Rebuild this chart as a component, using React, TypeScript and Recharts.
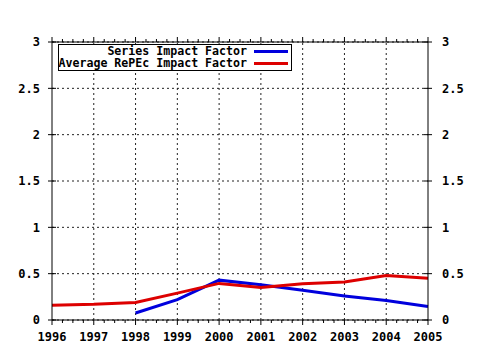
import { CartesianGrid, Line, LineChart, ReferenceLine, XAxis, YAxis } from "recharts";

const years = [1996, 1997, 1998, 1999, 2000, 2001, 2002, 2003, 2004, 2005];
const seriesImpact = [null, null, 0.075, 0.22, 0.43, 0.38, 0.32, 0.26, 0.21, 0.145];
const avgRepecImpact = [0.16, 0.17, 0.19, 0.29, 0.395, 0.35, 0.39, 0.41, 0.48, 0.45];
const yTicks = [0, 0.5, 1, 1.5, 2, 2.5, 3];

// both value axes share the same 0–3 range; each series sits on one of them
const SERIES = [
  { key: "series", name: "Series Impact Factor", color: "#0000dd", axis: "left" },
  { key: "avg", name: "Average RePEc Impact Factor", color: "#dd0000", axis: "right" },
];

const data = years.map((year, i) => ({
  year,
  series: seriesImpact[i],
  avg: avgRepecImpact[i],
}));

// quarter-year minor ticks on top/bottom edges
const quarterTicks = years
  .slice(0, -1)
  .flatMap((y) => [y, y + 0.25, y + 0.5, y + 0.75])
  .concat(years[years.length - 1]);

const FONT = "'DejaVu Sans Mono', monospace";
const textStyle = { fontFamily: FONT, fontWeight: 700, fontSize: 12, fill: "#000" };

function BottomTick({ x, y, payload }: any) {
  const major = Number.isInteger(payload.value);
  return (
    <g>
      <line x1={x} x2={x} y1={y} y2={y + (major ? 5 : 3)} stroke="#000" />
      {major && (
        <text x={x} y={y + 21} textAnchor="middle" style={textStyle}>
          {payload.value}
        </text>
      )}
    </g>
  );
}

function TopTick({ x, y, payload }: any) {
  const major = Number.isInteger(payload.value);
  return <line x1={x} x2={x} y1={y} y2={y - (major ? 5 : 3)} stroke="#000" />;
}

function LeftTick({ x, y, payload }: any) {
  return (
    <g>
      <line x1={x - 4} x2={x + 4} y1={y} y2={y} stroke="#000" />
      <text x={x - 12} y={y} dy="0.35em" textAnchor="end" style={textStyle}>
        {payload.value}
      </text>
    </g>
  );
}

function RightTick({ x, y, payload }: any) {
  return (
    <g>
      <line x1={x - 4} x2={x + 4} y1={y} y2={y} stroke="#000" />
      <text x={x + 14} y={y} dy="0.35em" textAnchor="start" style={textStyle}>
        {payload.value}
      </text>
    </g>
  );
}

export default function App() {
  return (
    <div style={{ position: "absolute", left: 0, top: 0, width: 480, height: 350, background: "#fff" }}>
      <LineChart width={480} height={350} data={data} margin={{ top: 0, right: 0, bottom: 0, left: 0 }}>
        <CartesianGrid yAxisId="left" stroke="#222" strokeDasharray="2 3" vertical={false} />
        {years.slice(1, -1).map((y) => (
          <ReferenceLine key={y} x={y} yAxisId="left" stroke="#222" strokeDasharray="2 3" />
        ))}
        <XAxis
          dataKey="year"
          type="number"
          domain={[1996, 2005]}
          ticks={quarterTicks}
          interval={0}
          height={30}
          stroke="#000"
          tickSize={0}
          tickMargin={0}
          tick={<BottomTick />}
        />
        <XAxis
          xAxisId="top"
          orientation="top"
          dataKey="year"
          type="number"
          domain={[1996, 2005]}
          ticks={quarterTicks}
          interval={0}
          height={42}
          stroke="#000"
          tickSize={0}
          tickMargin={0}
          tick={<TopTick />}
        />
        <YAxis
          yAxisId="left"
          domain={[0, 3]}
          ticks={yTicks}
          interval={0}
          width={52}
          stroke="#000"
          tickSize={0}
          tickMargin={0}
          tick={<LeftTick />}
        />
        <YAxis
          yAxisId="right"
          orientation="right"
          domain={[0, 3]}
          ticks={yTicks}
          interval={0}
          width={52}
          stroke="#000"
          tickSize={0}
          tickMargin={0}
          tick={<RightTick />}
        />
        {SERIES.map((s) => (
          <Line
            key={s.key}
            yAxisId={s.axis}
            dataKey={s.key}
            name={s.name}
            type="linear"
            stroke={s.color}
            strokeWidth={3}
            dot={false}
            isAnimationActive={false}
          />
        ))}
      </LineChart>
      <div
        style={{
          position: "absolute",
          left: 58,
          top: 44,
          width: 232,
          height: 25,
          border: "1px solid #000",
          background: "#fff",
          fontFamily: FONT,
          fontWeight: 700,
          fontSize: 11.6,
          lineHeight: "13px",
        }}
      >
        {SERIES.map((s) => (
          <div key={s.key} style={{ display: "flex", alignItems: "center", height: 12.5 }}>
            <div style={{ width: 188, flexShrink: 0, display: "flex", justifyContent: "flex-end" }}>
              <span style={{ whiteSpace: "nowrap", flexShrink: 0 }}>{s.name}</span>
            </div>
            <span style={{ display: "inline-block", marginLeft: 7, width: 34, height: 3, background: s.color }} />
          </div>
        ))}
      </div>
    </div>
  );
}
